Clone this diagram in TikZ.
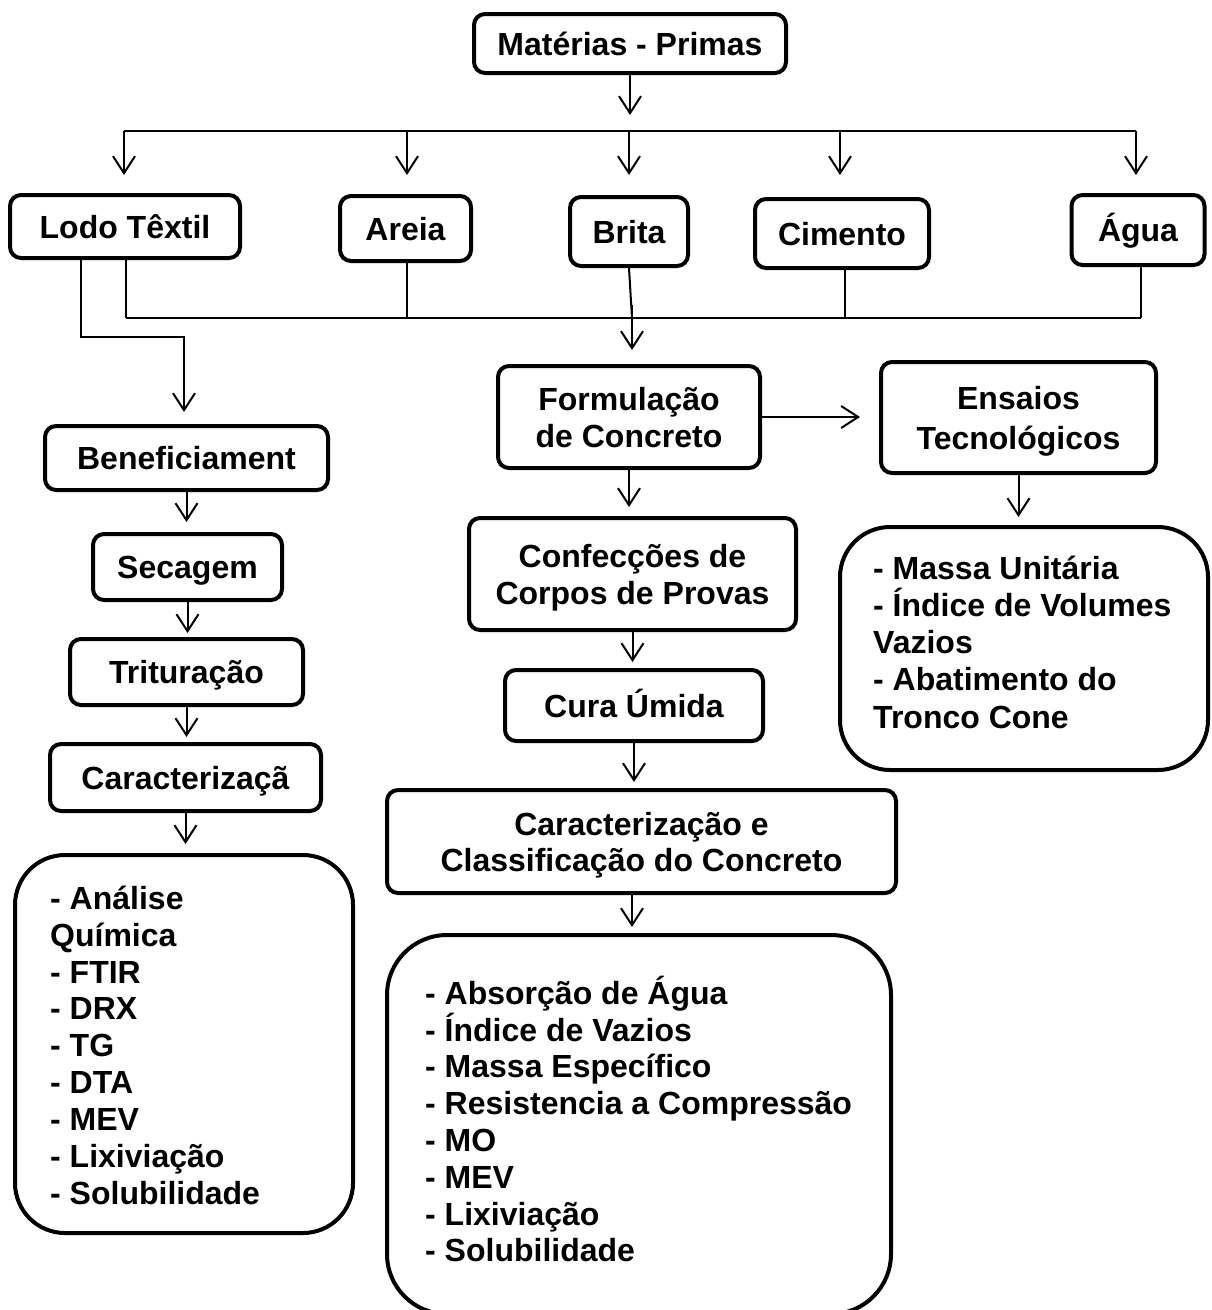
\documentclass[tikz,border=0pt]{standalone}
\usepackage{fontspec}
\setmainfont{Liberation Sans}
\usetikzlibrary{arrows.meta}
\newcommand\cstk[2]{\vtop{\baselineskip=#1\lineskiplimit=-1000pt\lineskip=0pt\halign{\hfil##\hfil\cr#2\crcr}}}
\newcommand\lstk[2]{\vtop{\baselineskip=#1\lineskiplimit=-1000pt\lineskip=0pt\halign{##\hfil\cr#2\crcr}}}
\begin{document}
\begin{tikzpicture}[x=1pt,y=-1pt,
  every node/.style={font=\bfseries\fontsize{32pt}{37pt}\selectfont},
  box/.style={draw, line width=4pt, rounded corners=11pt, inner sep=0pt, text height=23pt, text depth=0pt},
  lbox/.style={draw, line width=4pt, rounded corners=55pt, inner sep=0pt},
  ltext/.style={inner sep=0pt, anchor=north west, text height=23pt},
  conn/.style={line width=2pt},
  arr/.style={line width=2pt, -{Straight Barb[length=17pt,width=22pt]}}]
\useasboundingbox[fill=white] (0,0) rectangle (1212,1310);

% top
\node[box, minimum width=312pt, minimum height=59pt] (mp) at (630,43.5) {Matérias - Primas};
\node[box, minimum width=230pt, minimum height=63pt] (lodo) at (125,226.5) {Lodo Têxtil};
\node[box, minimum width=131pt, minimum height=65pt] (areia) at (405.5,228.5) {Areia};
\node[box, minimum width=118pt, minimum height=69pt] (brita) at (629,231.5) {Brita};
\node[box, minimum width=174pt, minimum height=69pt] (cim) at (842,233.5) {Cimento};
\node[box, minimum width=133pt, minimum height=70pt] (agua) at (1138,230) {Água};

% left column
\node[box, minimum width=283pt, minimum height=64pt] (benef) at (186.5,458) {Beneficiament};
\node[box, minimum width=189pt, minimum height=66pt] (sec) at (187.5,567) {Secagem};
\node[box, minimum width=233pt, minimum height=66pt] (trit) at (186.5,672) {Trituração};
\node[box, minimum width=271pt, minimum height=67pt] (carL) at (185.5,777.5) {Caracterizaçã};
\node[lbox, rounded corners=50pt, minimum width=338pt, minimum height=378pt] (listL) at (184,1044) {};
\node[ltext, text depth=295.2pt] (listLt) at (50,886) {\lstk{36.9pt}{- Análise\cr Química\cr - FTIR\cr - DRX\cr - TG\cr - DTA\cr - MEV\cr - Lixiviação\cr - Solubilidade}};

% middle column
\node[box, minimum width=262pt, minimum height=102pt, text depth=37pt] (form) at (629,417) {\cstk{37pt}{Formulação\cr de Concreto}};
\node[box, minimum width=327pt, minimum height=112pt, text depth=37pt] (conf) at (632.5,574) {\cstk{37pt}{Confecções de\cr Corpos de Provas}};
\node[box, minimum width=258pt, minimum height=71pt] (cura) at (634,705.5) {Cura Úmida};
\node[box, minimum width=509pt, minimum height=103pt, text depth=36pt] (carC) at (641.5,841.5) {\cstk{36pt}{Caracterização e\cr Classificação do Concreto}};
\node[lbox, rounded corners=60pt, minimum width=504pt, minimum height=379pt] (listC) at (639,1124.5) {};
\node[ltext, text depth=257.6pt] (listCt) at (425,981) {\lstk{36.8pt}{- Absorção de Água\cr - Índice de Vazios\cr - Massa Específico\cr - Resistencia a Compressão\cr - MO\cr - MEV\cr - Lixiviação\cr - Solubilidade}};

% right column
\node[box, minimum width=275pt, minimum height=111pt, text depth=40pt] (ens) at (1018.5,417.5) {\cstk{40pt}{Ensaios\cr Tecnológicos}};
\node[lbox, rounded corners=50pt, minimum width=368pt, minimum height=243pt] (listR) at (1024,648.5) {};
\node[ltext, text depth=149pt] (listRt) at (873,556) {\lstk{37.25pt}{- Massa Unitária\cr - Índice de Volumes\cr Vazios\cr - Abatimento do\cr Tronco Cone}};

% distribution from Matérias-Primas
\coordinate (t0) at (630,115);
\draw[arr] (mp.south) -- (t0);
\coordinate (hl) at (124,131);
\coordinate (hr) at (1136,131);
\draw[conn] (hl) -- (hr);
\foreach \n/\x in {lodo/124, areia/407, brita/629, cim/840, agua/1136} {
  \coordinate (d\n) at (\x,131);
  \coordinate (a\n) at (\x,175);
  \draw[arr] (d\n) -- (a\n);
}

% collection to Formulação
\coordinate (cl) at (126,318);
\coordinate (cm) at (632,318);
\coordinate (cr) at (1141,318);
\draw[conn] (lodo.south -| cl) -- (cl);
\draw[conn] (areia.south -| 407,0) -- (407,318);
\draw[conn] (brita.south) -- (cm);
\draw[conn] (cim.south -| 845,0) -- (845,318);
\draw[conn] (agua.south -| cr) -- (cr);
\draw[conn] (cl) -- (cr);
\coordinate (fs) at (632,305);
\coordinate (ft) at (632,350);
\draw[arr] (fs) -- (ft);

% Lodo to Beneficiamento
\coordinate (l1) at (81,337);
\coordinate (l2) at (184,337);
\coordinate (l3) at (184,412);
\draw[arr] (lodo.south -| l1) -- (l1) -- (l2) -- (l3);

% left chain
\draw[arr] (benef.south) -- ++(0,30);
\draw[arr] (sec.south) -- ++(0,31);
\draw[arr] (trit.south) -- ++(0,30);
\draw[arr] (carL.south) -- ++(0,31);

% middle chain
\draw[arr] (form.south) -- ++(0,37);
\draw[arr] (conf.south) -- ++(0,30);
\draw[arr] (cura.south) -- ++(0,39);
\draw[arr] (carC.south -| 632,0) -- ++(0,32);
\draw[arr] (form.east) -- ++(98,0);

% right chain
\draw[arr] (ens.south) -- ++(0,42);
\end{tikzpicture}
\end{document}
